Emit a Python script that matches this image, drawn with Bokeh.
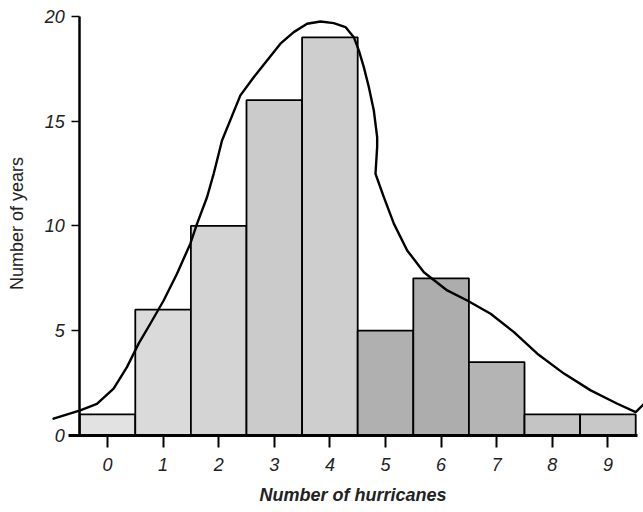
import math
from bokeh.plotting import figure
from bokeh.models import FixedTicker, Range1d, ColumnDataSource, Label
from bokeh.embed import file_html
from bokeh.resources import INLINE

# Data
hurricanes = [0, 1, 2, 3, 4, 5, 6, 7, 8, 9]
years = [1, 6, 10, 16, 19, 5, 7.5, 3.5, 1, 1]
bar_colors = ["#e2e2e2", "#dadada", "#d4d4d4", "#cbcbcb", "#cecece",
              "#b0b0b0", "#adadad", "#b4b4b4", "#c4c4c4", "#c8c8c8"]

curve_x = [-0.97, -0.49, -0.19, 0.11, 0.35, 0.56, 0.77, 1.01, 1.25, 1.49, 1.61,
           1.79, 1.91, 2.06, 2.39, 2.63, 2.87, 3.11, 3.35, 3.59, 3.83, 4.07,
           4.28, 4.43, 4.52, 4.61, 4.70, 4.79, 4.85, 4.85, 4.82, 4.97, 5.15,
           5.39, 5.69, 6.11, 6.47, 6.89, 7.31, 7.73, 8.21, 8.69, 9.17, 9.50, 9.65]
curve_y = [0.80, 1.19, 1.51, 2.23, 3.26, 4.38, 5.33, 6.44, 7.72, 9.15, 10.10,
           11.37, 12.49, 14.08, 16.23, 17.10, 17.90, 18.70, 19.25, 19.65, 19.76, 19.68,
           19.49, 19.01, 18.38, 17.58, 16.63, 15.51, 14.24, 13.77, 12.49, 11.37, 10.11,
           8.83, 7.79, 6.92, 6.44, 5.81, 4.93, 3.90, 2.95, 2.15, 1.51, 1.11, 1.51]

y_ticks = [0, 5, 10, 15, 20]
x_ticks = hurricanes

p = figure(width=643, height=512,
           x_range=Range1d(-1.924, 9.64), y_range=Range1d(-3.68, 20.76),
           output_backend="svg", toolbar_location=None,
           min_border_left=0, min_border_right=0,
           min_border_top=0, min_border_bottom=0)

src = ColumnDataSource(dict(x=hurricanes, top=years, color=bar_colors))
p.vbar(x="x", top="top", width=1.0, bottom=0, source=src,
       fill_color="color", line_color="black", line_width=1.8)

p.line(curve_x, curve_y, line_color="black", line_width=2.4,
       line_join="round", line_cap="round")

p.xgrid.visible = False
p.ygrid.visible = False
p.outline_line_color = None
p.background_fill_color = "white"

# y axis (spine at the left edge of the first bar)
p.yaxis.fixed_location = -0.5
p.yaxis.ticker = FixedTicker(ticks=y_ticks)
p.yaxis.bounds = (0, 20)
p.yaxis.axis_line_width = 2.5
p.yaxis.axis_line_color = "black"
p.yaxis.major_tick_out = 8
p.yaxis.major_tick_in = 0
p.yaxis.major_tick_line_width = 1.5
p.yaxis.minor_tick_line_color = None
p.yaxis.major_label_text_font = "Liberation Sans"
p.yaxis.major_label_text_font_size = "18px"
p.yaxis.major_label_text_font_style = "italic"
p.yaxis.major_label_text_color = "#222222"
p.yaxis.major_label_standoff = 7

p.add_layout(Label(x=16, y=289, x_units="screen", y_units="screen",
                   text="Number of years", angle=math.pi / 2,
                   text_align="center", text_baseline="middle",
                   text_font="Liberation Sans", text_font_size="18px",
                   text_color="#222222"))

# x axis (baseline at zero)
p.xaxis.fixed_location = 0
p.xaxis.ticker = FixedTicker(ticks=x_ticks)
p.xaxis.bounds = (-0.7, 9.53)
p.xaxis.axis_line_width = 3
p.xaxis.axis_line_color = "black"
p.xaxis.major_tick_out = 12
p.xaxis.major_tick_in = 0
p.xaxis.major_tick_line_width = 2
p.xaxis.minor_tick_line_color = None
p.xaxis.major_label_text_font = "Liberation Sans"
p.xaxis.major_label_text_font_size = "18px"
p.xaxis.major_label_text_font_style = "italic"
p.xaxis.major_label_text_color = "#222222"
p.xaxis.major_label_standoff = 11
p.xaxis.axis_label = "Number of hurricanes"
p.xaxis.axis_label_text_font = "Liberation Sans"
p.xaxis.axis_label_text_font_size = "18px"
p.xaxis.axis_label_text_font_style = "bold italic"
p.xaxis.axis_label_text_color = "#222222"
p.xaxis.axis_label_standoff = 10

open("out.html", "w").write(file_html(p, INLINE))
